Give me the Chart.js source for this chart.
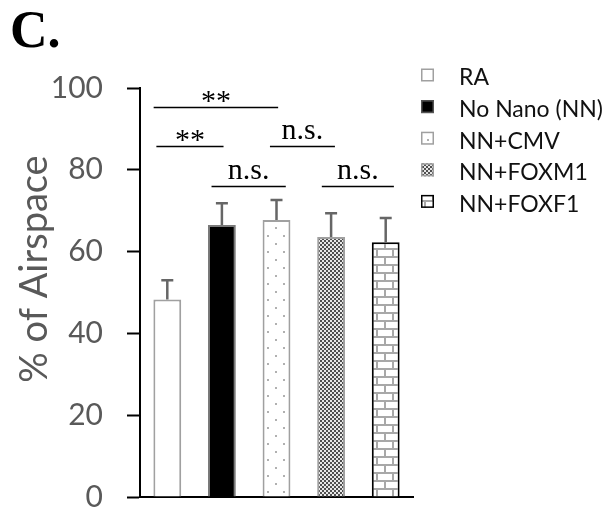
<!DOCTYPE html>
<html>
<head>
<meta charset="utf-8">
<script src="https://cdn.jsdelivr.net/npm/chart.js@4.4.1/dist/chart.umd.min.js"></script>
<style>
  html, body { margin: 0; padding: 0; background: #fff; }
</style>
</head>
<body>
<canvas id="airspaceChart" width="610" height="512"></canvas>
<script>
// values
const groups = ['RA', 'No Nano (NN)', 'NN+CMV', 'NN+FOXM1', 'NN+FOXF1'];
const airspace = [48.3, 66.5, 67.7, 63.6, 62.3];
const errorUp = [4.7, 5.3, 4.9, 5.8, 5.9];
const yTicks = [0, 20, 40, 60, 80, 100];

// significance brackets (category index from/to, level in % units)
const sigLabels = ['**', '**', 'n.s.', 'n.s.', 'n.s.'];
const sigFrom = [-0.25, -0.2, 1.88, 0.81, 2.83];
const sigTo = [2.03, 1.03, 3.07, 2.17, 4.15];
const sigLevel = [95.3, 85.9, 85.9, 76.0, 76.0];

// fill patterns for the bars
function makePattern(kind) {
  const c = document.createElement('canvas');
  const g = c.getContext('2d');
  if (kind === 'dots') {
    c.width = 16; c.height = 16;
    g.fillStyle = '#fff'; g.fillRect(0, 0, 16, 16);
    g.fillStyle = '#b0b0b0';
    g.fillRect(3, 3, 2, 2);
    g.fillRect(11, 11, 2, 2);
  } else if (kind === 'checker') {
    c.width = 4; c.height = 4;
    g.fillStyle = '#e8e8e8'; g.fillRect(0, 0, 4, 4);
    g.fillStyle = '#505050';
    g.fillRect(0, 0, 2, 2);
    g.fillRect(2, 2, 2, 2);
  } else if (kind === 'brick') {
    c.width = 16; c.height = 16;
    g.fillStyle = '#fff'; g.fillRect(0, 0, 16, 16);
    g.fillStyle = '#a8a8a8';
    g.fillRect(0, 0, 16, 2);
    g.fillRect(0, 8, 16, 2);
    g.fillRect(0, 0, 2, 8);
    g.fillRect(8, 8, 2, 8);
  }
  return g.createPattern(c, 'repeat');
}

const fills = ['#ffffff', '#000000', makePattern('dots'), makePattern('checker'), makePattern('brick')];
const edges = ['#a0a0a0', '#7a7a7a', '#a0a0a0', '#a0a0a0', '#000000'];

const datasets = groups.map((g, i) => ({
  label: g,
  data: groups.map((_, j) => (j === i ? airspace[i] : null)),
  backgroundColor: fills[i],
  borderColor: edges[i],
  borderWidth: 2,
  barPercentage: 0.51,
  categoryPercentage: 1
}));

const extras = {
  id: 'extras',
  afterDatasetsDraw(chart) {
    const ctx = chart.ctx;
    const y = chart.scales.y;
    ctx.save();
    ctx.strokeStyle = '#666';
    ctx.lineWidth = 2.5;
    groups.forEach((g, i) => {
      const bar = chart.getDatasetMeta(i).data[i];
      const top = y.getPixelForValue(airspace[i] + errorUp[i]);
      ctx.beginPath();
      ctx.moveTo(bar.x, bar.y);
      ctx.lineTo(bar.x, top);
      ctx.moveTo(bar.x - 6, top);
      ctx.lineTo(bar.x + 6, top);
      ctx.stroke();
    });
    ctx.restore();
  },
  afterDraw(chart) {
    const ctx = chart.ctx;
    const x = chart.scales.x;
    const y = chart.scales.y;
    ctx.save();

    // panel letter
    ctx.fillStyle = '#000';
    ctx.font = 'bold 52px "Liberation Serif", serif';
    ctx.textBaseline = 'alphabetic';
    ctx.textAlign = 'left';
    ctx.fillText('C.', 10, 47);

    // y axis title
    ctx.save();
    ctx.translate(47, 269);
    ctx.rotate(-Math.PI / 2);
    ctx.textAlign = 'center';
    ctx.fillStyle = '#595959';
    ctx.font = '38px Lato, sans-serif';
    ctx.fillText('% of Airspace', 0, 0);
    ctx.restore();

    // significance brackets
    ctx.strokeStyle = '#000';
    ctx.fillStyle = '#000';
    ctx.lineWidth = 1.3;
    ctx.textAlign = 'center';
    ctx.font = '30px "Liberation Serif", serif';
    sigLabels.forEach((lab, i) => {
      const x0 = x.getPixelForValue(sigFrom[i]);
      const x1 = x.getPixelForValue(sigTo[i]);
      const yy = Math.round(y.getPixelForValue(sigLevel[i])) + 0.5;
      ctx.beginPath();
      ctx.moveTo(x0, yy);
      ctx.lineTo(x1, yy);
      ctx.stroke();
      ctx.fillText(lab, (x0 + x1) / 2, lab === '**' ? yy + 2 : yy - 7.5);
    });

    // legend
    ctx.textAlign = 'left';
    ctx.textBaseline = 'middle';
    ctx.font = '23px Lato, sans-serif';
    groups.forEach((g, i) => {
      const cy = 78 + i * 31.6;
      const bx = 421, by = cy - 9.5;
      ctx.fillStyle = fills[i];
      ctx.fillRect(bx, by, 13, 13);
      ctx.strokeStyle = i === 4 ? '#000' : (i === 1 ? '#555' : '#a0a0a0');
      ctx.lineWidth = 1.5;
      ctx.strokeRect(bx + 0.75, by + 0.75, 11.5, 11.5);
      ctx.fillStyle = '#111';
      ctx.fillText(g, 459, cy);
    });
    ctx.restore();
  }
};

new Chart(document.getElementById('airspaceChart'), {
  type: 'bar',
  data: { labels: groups, datasets: datasets },
  options: {
    responsive: false,
    animation: false,
    devicePixelRatio: 1,
    layout: { padding: { top: 88, right: 197, bottom: 15, left: 13 } },
    datasets: { bar: { grouped: false, skipNull: true } },
    plugins: { legend: { display: false }, tooltip: { enabled: false } },
    scales: {
      x: {
        ticks: { display: false },
        grid: { display: false, drawTicks: false },
        border: { display: true, color: '#000', width: 2 },
        afterFit: s => { s.height = 0; }
      },
      y: {
        min: 0,
        max: 100,
        afterBuildTicks: s => { s.ticks = yTicks.map(v => ({ value: v })); },
        afterFit: s => { s.width = 127; s.paddingTop = 0; s.paddingBottom = 0; },
        ticks: { color: '#595959', padding: 24, font: { family: 'Lato', size: 30 } },
        grid: { drawOnChartArea: false, drawTicks: true, tickLength: 13, tickWidth: 2, tickColor: '#000' },
        border: { display: true, color: '#000', width: 2 }
      }
    }
  },
  plugins: [extras]
});
</script>
</body>
</html>
